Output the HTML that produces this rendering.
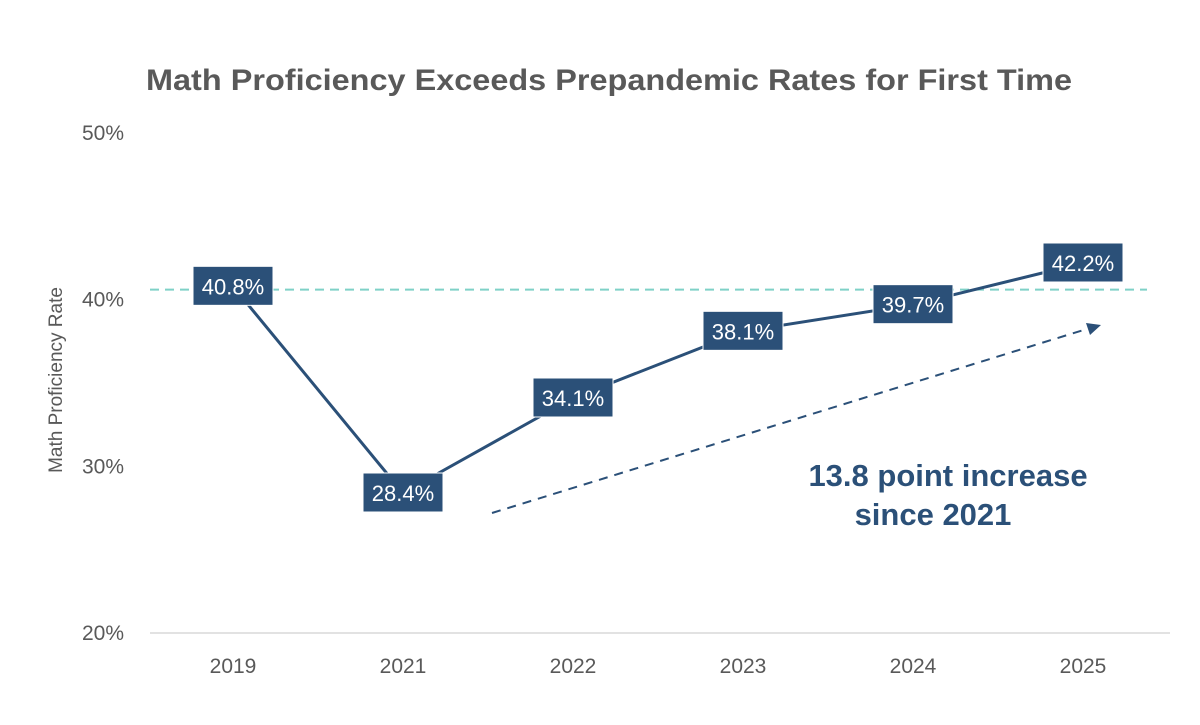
<!DOCTYPE html>
<html><head><meta charset="utf-8"><style>
html,body{margin:0;padding:0;background:#fff;}
svg{display:block;font-family:"Liberation Sans",sans-serif;}
</style></head><body>
<svg id="chart" width="1200" height="725" viewBox="0 0 1200 725">
<text x="609" y="90" text-anchor="middle" font-size="30" font-weight="bold" fill="#595959" textLength="926" lengthAdjust="spacingAndGlyphs">Math Proficiency Exceeds Prepandemic Rates for First Time</text>
<text transform="translate(62,380) rotate(-90)" text-anchor="middle" font-size="19" fill="#595959">Math Proficiency Rate</text>
<g id="yticks"></g>
<g id="xticks"></g>
<line x1="150" y1="633" x2="1170" y2="633" stroke="#d9d9d9" stroke-width="1.5"/>
<line id="ref" x1="150" x2="1147" stroke="#7fd1c7" stroke-width="2" stroke-dasharray="9,6"/>
<g>
<line x1="492" y1="513" x2="1090" y2="328" stroke="#2b5078" stroke-width="2" stroke-dasharray="9,7"/>
<polygon points="1101,325 1086,323 1090,335" fill="#2b5078"/>
</g>
<polyline id="series" fill="none" stroke="#2b5078" stroke-width="3"/>
<g id="labels"></g>
<text x="948" y="486" text-anchor="middle" font-size="31" font-weight="bold" fill="#2b5078"><tspan x="948">13.8 point increase</tspan><tspan x="933" dy="39">since 2021</tspan></text>
</svg>
<script>
const years = ["2019","2021","2022","2023","2024","2025"];
const rates = [40.8, 28.4, 34.1, 38.1, 39.7, 42.2];
const yTicks = [20, 30, 40, 50];
const refValue = 40.6;
const NS = "http://www.w3.org/2000/svg";
const y = v => 633 - (v - 20) * 500 / 30;
const x = i => 233 + i * 170;
function mk(tag, attrs, parent){const e=document.createElementNS(NS,tag);for(const k in attrs)e.setAttribute(k,attrs[k]);parent.appendChild(e);return e;}
const yt = document.getElementById("yticks");
yTicks.forEach(t=>{
  const e = mk("text",{x:124,y:y(t)+7,"text-anchor":"end","font-size":21,fill:"#595959"},yt);
  e.textContent = t+"%";
  
  
});
const xt = document.getElementById("xticks");
years.forEach((yr,i)=>{
  const e = mk("text",{x:x(i),y:673,"text-anchor":"middle","font-size":21,fill:"#595959"},xt);
  e.textContent = yr;
  
  
});
const ref = document.getElementById("ref");
ref.setAttribute("y1", y(refValue)); ref.setAttribute("y2", y(refValue));
document.getElementById("series").setAttribute("points", rates.map((r,i)=>x(i)+","+y(r)).join(" "));
const lg = document.getElementById("labels");
rates.forEach((r,i)=>{
  const g = mk("g",{},lg);
  
  
  mk("rect",{x:x(i)-40,y:y(r)-20,width:80,height:39,fill:"#2b5078",stroke:"#fff","stroke-width":1},g);
  const t = mk("text",{x:x(i),y:y(r)+8,"text-anchor":"middle","font-size":22,fill:"#fff"},g);
  t.textContent = r.toFixed(1)+"%";
});
</script>
</body></html>
